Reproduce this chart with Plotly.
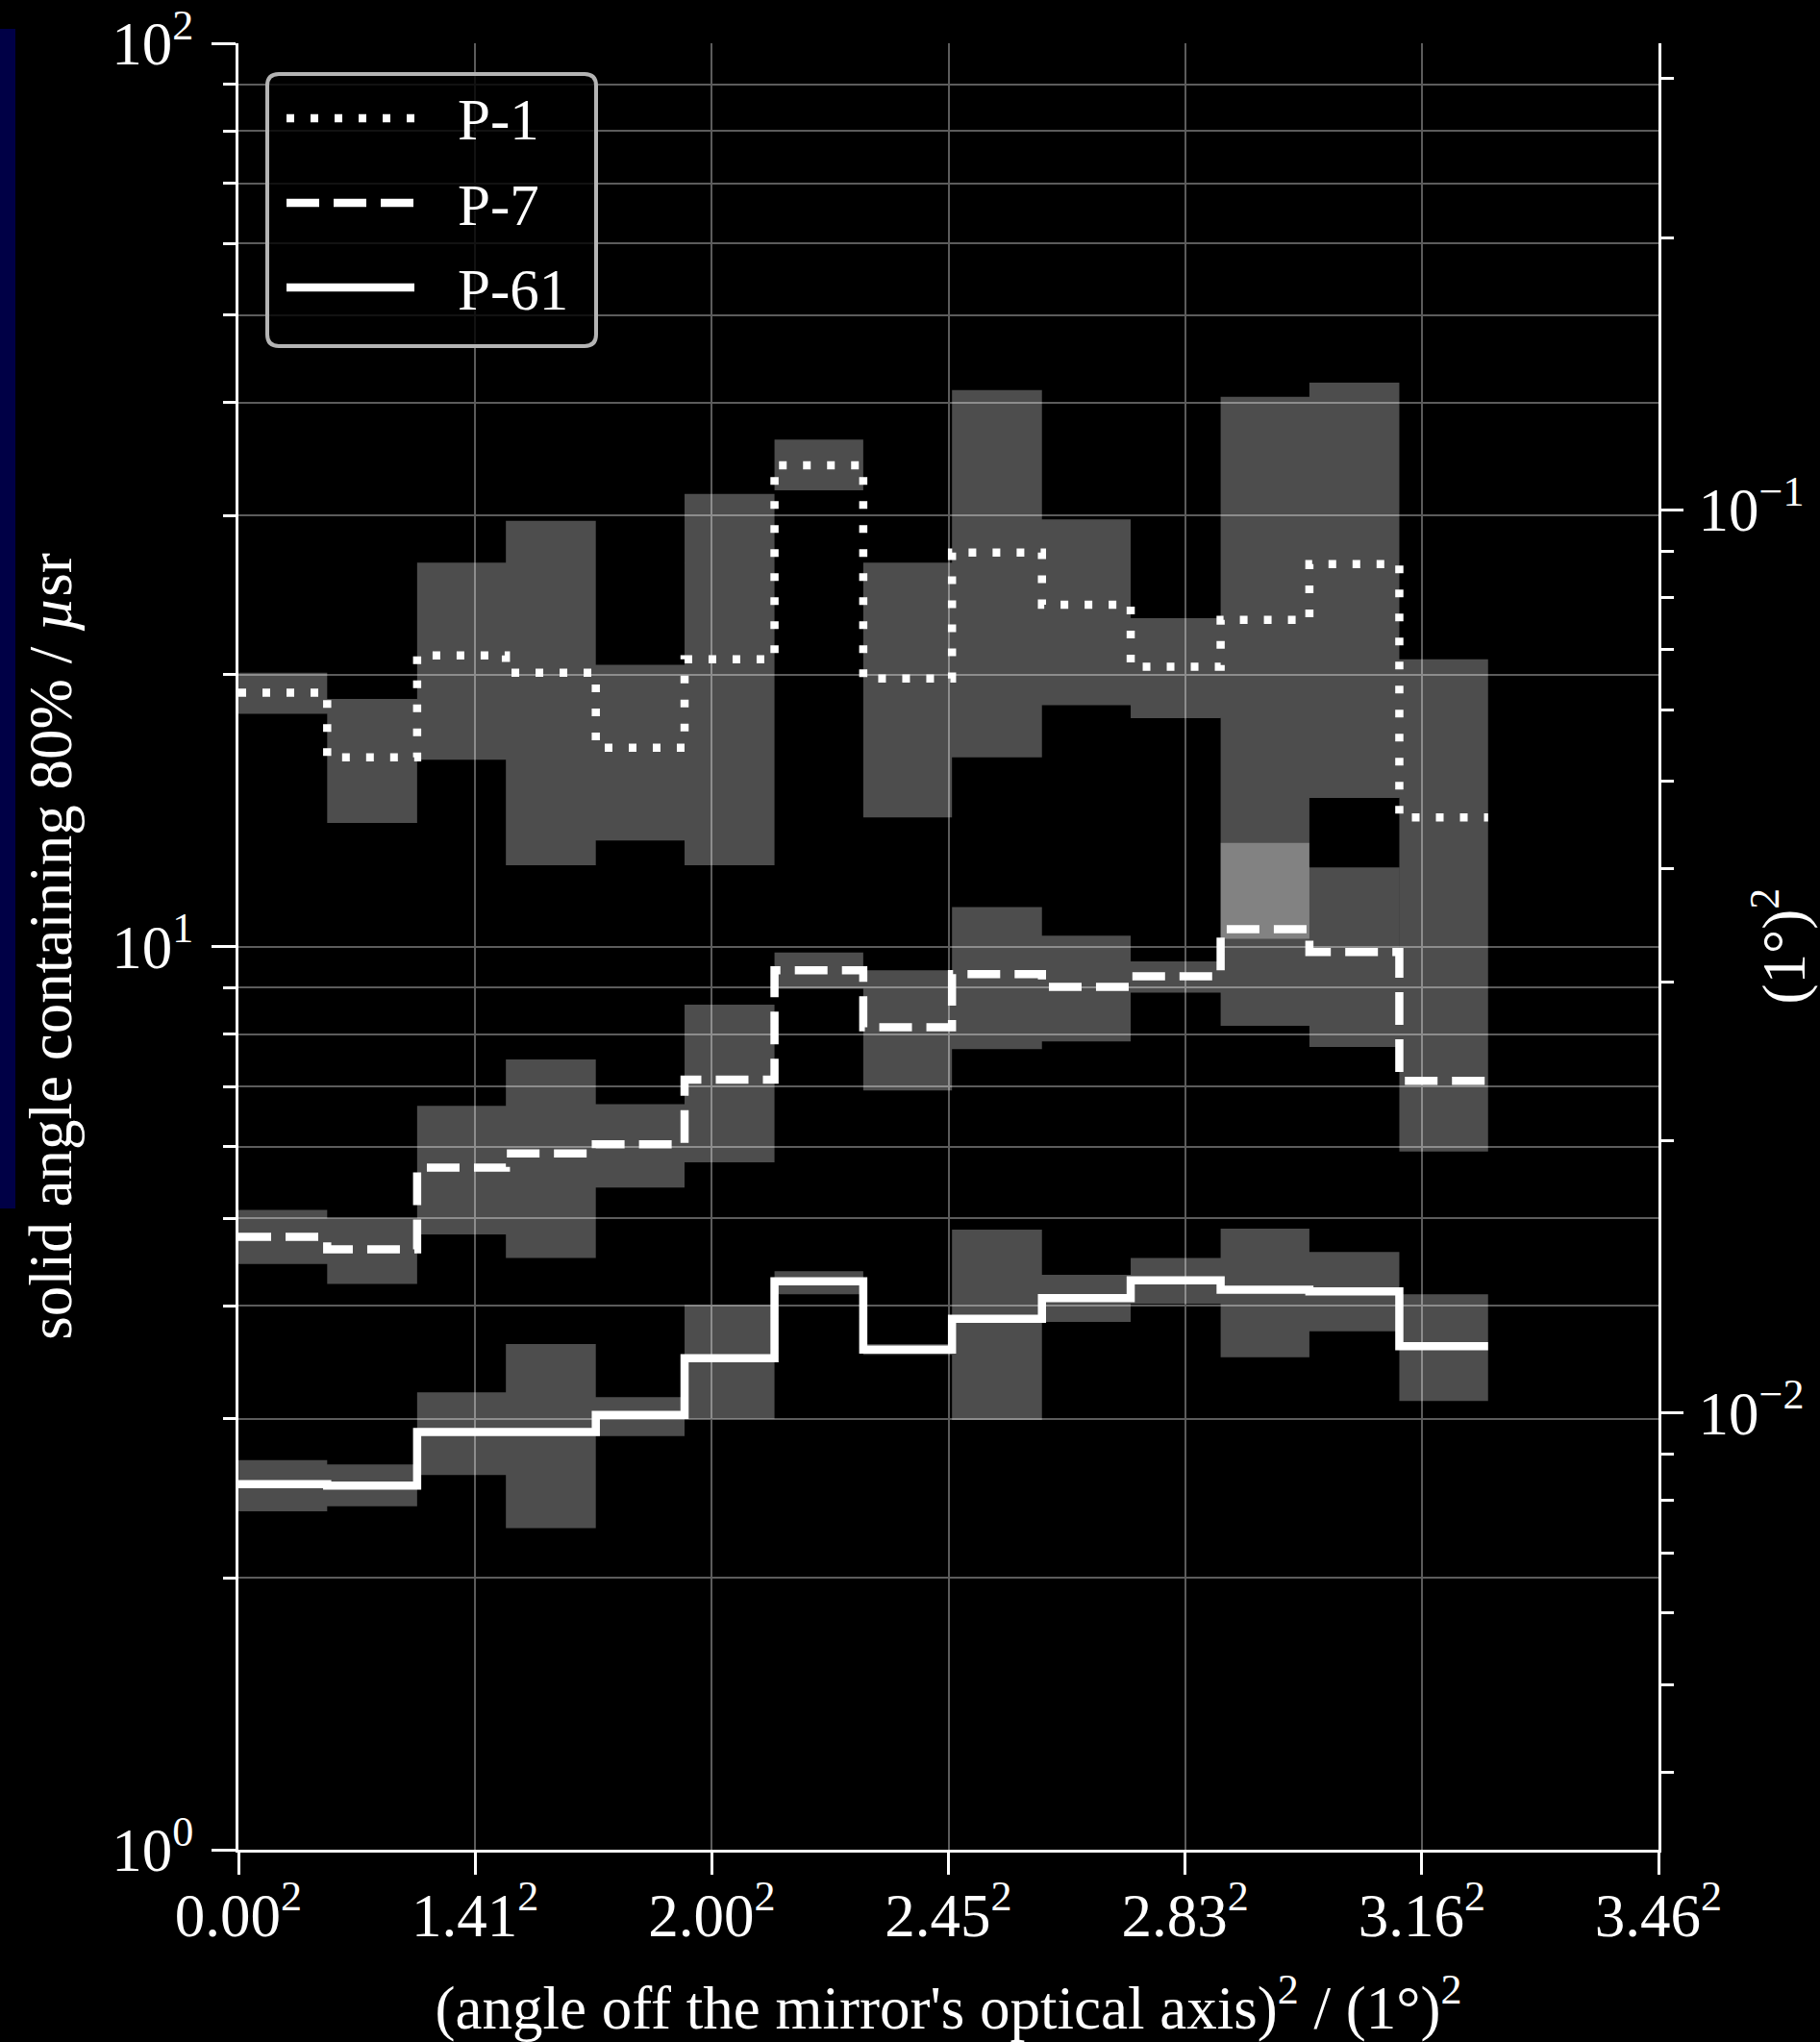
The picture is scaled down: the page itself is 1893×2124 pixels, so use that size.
import math
import plotly.graph_objects as go

# bin edges, (angle off axis)^2 in (1 deg)^2
edges = [0.0, 0.75, 1.51, 2.26, 3.02, 3.77, 4.53, 5.28, 6.03, 6.79, 7.54, 8.30, 9.05, 9.81, 10.56]

# solid angle containing 80% / usr : median line and band (low, high)
p1_mid = [19.1, 16.2, 21.0, 20.1, 16.6, 20.8, 34.1, 19.8, 27.3, 23.9, 20.4, 23.0, 26.5, 13.9]
p1_hi = [20.1, 18.8, 26.6, 29.6, 20.5, 31.7, 36.4, 26.6, 41.3, 29.7, 23.1, 40.6, 42.1, 20.8]
p1_lo = [18.1, 13.7, 16.1, 12.3, 13.1, 12.3, 32.0, 13.9, 16.2, 18.5, 17.9, 10.2, 14.6, 9.63]

p7_mid = [4.77, 4.62, 5.69, 5.90, 6.04, 7.12, 9.41, 8.14, 9.32, 9.02, 9.27, 10.45, 9.86, 7.10]
p7_hi = [5.11, 5.00, 6.66, 7.50, 6.69, 8.62, 9.85, 9.41, 11.06, 10.28, 9.63, 13.02, 12.23, 9.63]
p7_lo = [4.45, 4.23, 4.80, 4.52, 5.41, 5.77, 8.98, 6.93, 7.70, 7.85, 8.89, 8.17, 7.74, 5.93]

p61_mid = [2.54, 2.53, 2.90, 2.90, 3.03, 3.50, 4.26, 3.58, 3.87, 4.08, 4.27, 4.17, 4.15, 3.61]
p61_hi = [2.70, 2.67, 3.21, 3.63, 3.17, 4.01, 4.37, 3.63, 4.86, 4.33, 4.52, 4.87, 4.59, 4.12]
p61_lo = [2.37, 2.40, 2.60, 2.27, 2.87, 3.00, 4.12, 3.53, 2.99, 3.84, 4.02, 3.51, 3.75, 3.14]

series_names = ["P-1", "P-7", "P-61"]
series_dash = ["8px,17px", "34px,15px", "solid"]

x_tickvals = [0, 2, 4, 6, 8, 10, 12]
x_ticktext = ["0.00<sup>2</sup>", "1.41<sup>2</sup>", "2.00<sup>2</sup>", "2.45<sup>2</sup>",
              "2.83<sup>2</sup>", "3.16<sup>2</sup>", "3.46<sup>2</sup>"]
y_tickvals = [1, 10, 100]
y_ticktext = ["10<sup>0</sup>", "10<sup>1</sup>", "10<sup>2</sup>"]
y_minor = [2, 3, 4, 5, 6, 7, 8, 9, 20, 30, 40, 50, 60, 70, 80, 90]
y2_tickvals = [0.01, 0.1]
y2_ticktext = ["10<sup>\u22122</sup>", "10<sup>\u22121</sup>"]
y2_minor = [0.004, 0.005, 0.006, 0.007, 0.008, 0.009,
            0.02, 0.03, 0.04, 0.05, 0.06, 0.07, 0.08, 0.09, 0.2, 0.3]

# 1 (deg)^2 expressed in micro-steradian
USR_PER_DEG2 = (math.pi / 180) ** 2 * 1e6

W, H = 1893, 2124
ML, MR, MT, MB = 248, 168, 45, 200
PW = W - ML - MR
PH = H - MT - MB
FS = 63


def px_x(p):
    return (p - ML) / PW


def px_y(p):
    return (H - MB - p) / PH


def band_xy(lo, hi):
    xs, ys = [], []
    for i in range(len(lo)):
        x0, x1 = edges[i], edges[i + 1]
        xs += [x0, x1, x1, x0, x0, None]
        ys += [lo[i], lo[i], hi[i], hi[i], lo[i], None]
    return xs, ys


def rounded_box(x0, y0, x1, y1, r):
    pts = [
        ("M", [(x0 + r, y0)]), ("L", [(x1 - r, y0)]), ("Q", [(x1, y0), (x1, y0 + r)]),
        ("L", [(x1, y1 - r)]), ("Q", [(x1, y1), (x1 - r, y1)]), ("L", [(x0 + r, y1)]),
        ("Q", [(x0, y1), (x0, y1 - r)]), ("L", [(x0, y0 + r)]), ("Q", [(x0, y0), (x0 + r, y0)]),
    ]
    path = ""
    for cmd, ps in pts:
        path += cmd + " ".join("%.5f,%.5f" % (px_x(a), px_y(b)) for a, b in ps) + " "
    return path + "Z"


fig = go.Figure()

for lo, hi in [(p1_lo, p1_hi), (p7_lo, p7_hi), (p61_lo, p61_hi)]:
    bx, by = band_xy(lo, hi)
    fig.add_trace(go.Scatter(x=bx, y=by, mode="lines", fill="toself",
                             fillcolor="rgba(255,255,255,0.3)", line=dict(width=0),
                             hoverinfo="skip", showlegend=False))

for name, mid, dash in zip(series_names, [p1_mid, p7_mid, p61_mid], series_dash):
    fig.add_trace(go.Scatter(x=edges, y=mid + [mid[-1]], mode="lines", name=name,
                             line=dict(shape="hv", color="white", width=8.5, dash=dash),
                             showlegend=False))

# empty trace so the right-hand axis is drawn
fig.add_trace(go.Scatter(x=[0], y=[0.01], yaxis="y2", mode="none",
                         hoverinfo="skip", showlegend=False))

grid = "#5c5c5c"
fig.update_layout(
    width=W, height=H,
    paper_bgcolor="black", plot_bgcolor="black",
    margin=dict(l=ML, r=MR, t=MT, b=MB, autoexpand=False),
    font=dict(family="Liberation Serif", color="white", size=FS),
    showlegend=False,
    xaxis=dict(
        range=[0, 12], tickvals=x_tickvals, ticktext=x_ticktext, automargin=False,
        ticks="outside", ticklen=23, tickwidth=3, tickcolor="white",
        showline=True, linewidth=3, linecolor="white",
        showgrid=True, gridcolor=grid, gridwidth=1.5, zeroline=False,
        tickfont=dict(size=FS), ticklabelstandoff=-12,
        title=dict(text="(angle off the mirror's optical axis)<sup>2</sup> / (1\u00b0)<sup>2</sup>",
                   font=dict(size=FS), standoff=40),
    ),
    yaxis=dict(
        type="log", range=[0, 2], tickvals=y_tickvals, ticktext=y_ticktext, automargin=False,
        ticks="outside", ticklen=25, tickwidth=3, tickcolor="white",
        showline=True, linewidth=3, linecolor="white",
        showgrid=True, gridcolor=grid, gridwidth=1.5, zeroline=False,
        minor=dict(tickvals=y_minor, ticks="outside", ticklen=13, tickwidth=2.5,
                   tickcolor="white", showgrid=True, gridcolor=grid, gridwidth=1.5),
        tickfont=dict(size=FS), ticklabelstandoff=6,
        title=dict(text="solid angle containing 80% / <i>\u00b5</i>sr",
                   font=dict(size=FS), standoff=22),
    ),
    yaxis2=dict(
        type="log", overlaying="y", side="right", automargin=False,
        range=[math.log10(1 / USR_PER_DEG2), math.log10(100 / USR_PER_DEG2)],
        tickvals=y2_tickvals, ticktext=y2_ticktext,
        ticks="outside", ticklen=23, tickwidth=3, tickcolor="white",
        showline=True, linewidth=3, linecolor="white",
        showgrid=False, zeroline=False,
        minor=dict(tickvals=y2_minor, ticks="outside", ticklen=13, tickwidth=2.5,
                   tickcolor="white", showgrid=False),
        tickfont=dict(size=FS), ticklabelstandoff=3,
    ),
)

# right axis title
fig.add_annotation(text="(1\u00b0)<sup>2</sup>", xref="paper", yref="paper",
                   x=px_x(1851), y=0.5, xanchor="center", yanchor="middle",
                   textangle=-90, showarrow=False,
                   font=dict(size=FS, color="white"))

# legend drawn by hand (long line samples, rounded frame)
fig.add_shape(type="path", xref="paper", yref="paper", layer="above",
              path=rounded_box(278, 77, 620, 360, 12),
              fillcolor="rgba(0,0,0,0.8)", line=dict(color="#b4b4b4", width=4))
legend_rows = [123, 211, 299]
for name, dash, ry in zip(series_names, series_dash, legend_rows):
    fig.add_shape(type="line", xref="paper", yref="paper", layer="above",
                  x0=px_x(298), x1=px_x(431), y0=px_y(ry), y1=px_y(ry),
                  line=dict(color="white", width=8.5, dash=dash))
    fig.add_annotation(text=name, xref="paper", yref="paper", x=px_x(474), y=px_y(ry + 2),
                       xanchor="left", yanchor="middle", showarrow=False,
                       font=dict(size=61, color="white"))

# dark blue strip at the left edge of the original picture
fig.add_shape(type="rect", xref="paper", yref="paper", layer="below",
              x0=px_x(0), x1=px_x(16), y0=px_y(1257), y1=px_y(30),
              fillcolor="#000046", line=dict(width=0))

fig.write_html(
    "out.html",
    config={"displayModeBar": False},
    post_script="document.body.style.margin='0';document.body.style.background='black';"
                "document.body.style.overflow='hidden';",
)
